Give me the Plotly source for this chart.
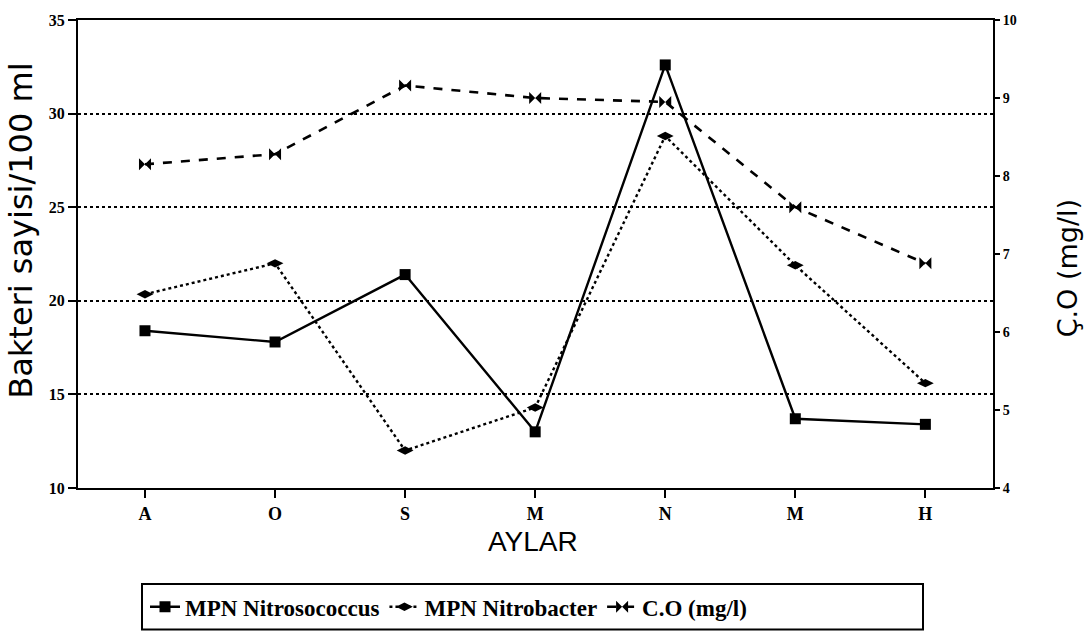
import plotly.graph_objects as go

# ---- data ----
months = ["A", "O", "S", "M", "N", "M", "H"]
nitrosococcus = [18.4, 17.8, 21.4, 13.0, 32.6, 13.7, 13.4]
nitrobacter = [20.35, 22.0, 12.0, 14.3, 28.8, 21.9, 15.6]
co = [8.15, 8.28, 9.16, 9.0, 8.95, 7.6, 6.88]
left_ticks = [10, 15, 20, 25, 30, 35]
right_ticks = [4, 5, 6, 7, 8, 9, 10]

xpos = list(range(len(months)))

# plot area in pixels
L, R, T, B = 78, 993, 15, 488
W, H = 1088, 640
pw, ph = R - L, B - T


def px_x(p):
    return (p - L) / pw


def px_y(p):
    return (B - p) / ph


fig = go.Figure()

fig.add_trace(go.Scatter(
    x=xpos, y=nitrosococcus, name="<b>MPN Nitrosococcus</b>",
    mode="lines+markers",
    line=dict(color="black", width=2.4, dash="solid"),
    marker=dict(symbol="square", size=11, color="black"),
))
fig.add_trace(go.Scatter(
    x=xpos, y=nitrobacter, name="<b>MPN Nitrobacter</b>",
    mode="lines+markers",
    line=dict(color="black", width=2.4, dash="dot"),
    marker=dict(symbol="diamond-wide", size=12, color="black"),
))
fig.add_trace(go.Scatter(
    x=xpos, y=co, name="<b>C.O (mg/l)</b>", yaxis="y2",
    mode="lines+markers",
    line=dict(color="black", width=2.6, dash="dash"),
    marker=dict(symbol="bowtie", size=12, color="black"),
))

tickfont = dict(family="Liberation Serif, DejaVu Serif, serif", size=16, color="black")

fig.update_layout(
    width=W, height=H,
    margin=dict(l=L, r=W - R, t=T, b=H - B),
    paper_bgcolor="white", plot_bgcolor="white",
    showlegend=True,
    legend=dict(
        orientation="h", x=px_x(145), xanchor="left", y=px_y(608), yanchor="middle",
        font=dict(family="Liberation Serif, DejaVu Serif, serif", size=23, color="black"),
        bgcolor="rgba(0,0,0,0)", borderwidth=0, itemwidth=30,
    ),
    xaxis=dict(
        range=[-0.515, 6.52], tickvals=xpos, ticktext=[f"<b>{m}</b>" for m in months],
        ticks="outside", ticklen=8, tickwidth=2, tickcolor="black",
        showline=True, linecolor="black", linewidth=2, mirror=True,
        showgrid=False, zeroline=False, tickfont=dict(family="Liberation Serif, serif", size=18, color="black"),
    ),
    yaxis=dict(
        range=[10, 35], tickvals=left_ticks, ticktext=[f"<b>{v}</b>" for v in left_ticks],
        ticks="outside", ticklen=8, tickwidth=2, tickcolor="black",
        showline=True, linecolor="black", linewidth=2, mirror=True,
        showgrid=True, gridcolor="black", gridwidth=2, griddash="dot",
        zeroline=False, tickfont=tickfont,
    ),
    yaxis2=dict(
        range=[4, 10], tickvals=right_ticks, ticktext=[f"<b>{v}</b>" for v in right_ticks],
        overlaying="y", side="right",
        ticks="outside", ticklen=6, tickwidth=2, tickcolor="black",
        showline=False, showgrid=False, zeroline=False,
        tickfont=dict(family="Liberation Serif, serif", size=14, color="black"),
    ),
    annotations=[
        dict(text="Bakteri sayisi/100 ml", xref="paper", yref="paper",
             x=px_x(21), y=px_y(228), xanchor="center", yanchor="middle",
             textangle=-90, showarrow=False,
             font=dict(family="DejaVu Sans, sans-serif", size=32, color="black")),
        dict(text="Ç.O (mg/l)", xref="paper", yref="paper",
             x=px_x(1067), y=px_y(266), xanchor="center", yanchor="middle",
             textangle=-90, showarrow=False,
             font=dict(family="DejaVu Sans, sans-serif", size=27, color="black")),
        dict(text="AYLAR", xref="paper", yref="paper",
             x=px_x(533), y=px_y(542), xanchor="center", yanchor="middle",
             showarrow=False,
             font=dict(family="Liberation Sans Narrow, Liberation Sans, Arial, sans-serif", size=28, color="black")),
    ],
    shapes=[
        dict(type="rect", xref="paper", yref="paper",
             x0=px_x(142), x1=px_x(923), y0=px_y(585), y1=px_y(631),
             line=dict(color="black", width=2), fillcolor="rgba(0,0,0,0)"),
    ],
)

fig.write_html("out.html")
